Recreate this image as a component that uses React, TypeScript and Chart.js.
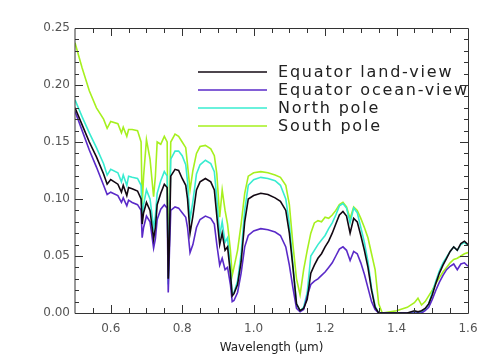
import React, { useEffect, useRef } from "react";
import { Chart, registerables } from "chart.js";

Chart.register(...registerables);

const wavelengths = [
  0.50, 0.52, 0.54, 0.56, 0.58, 0.59, 0.60, 0.62, 0.63, 0.635,
  0.645, 0.65, 0.66, 0.675, 0.685, 0.688, 0.692, 0.70, 0.71, 0.72,
  0.725, 0.73, 0.74, 0.75, 0.758, 0.761, 0.764, 0.768, 0.78, 0.79,
  0.80, 0.81, 0.815, 0.822, 0.83, 0.84, 0.85, 0.865, 0.88, 0.89,
  0.897, 0.905, 0.912, 0.92, 0.927, 0.935, 0.94, 0.945, 0.955, 0.965,
  0.975, 0.985, 1.00, 1.02, 1.04, 1.06, 1.075, 1.09, 1.10, 1.11,
  1.12, 1.13, 1.14, 1.15, 1.16, 1.17, 1.18, 1.19, 1.20, 1.21,
  1.22, 1.23, 1.24, 1.25, 1.26, 1.27, 1.28, 1.29, 1.30, 1.31,
  1.32, 1.33, 1.34, 1.35, 1.36, 1.40, 1.43, 1.45, 1.46, 1.47,
  1.48, 1.49, 1.50, 1.51, 1.52, 1.53, 1.54, 1.55, 1.56, 1.57,
  1.58, 1.59, 1.60,
];

const equatorLand = [
  0.180, 0.165, 0.150, 0.137, 0.122, 0.113, 0.117, 0.113, 0.106, 0.112,
  0.103, 0.110, 0.109, 0.107, 0.100, 0.078, 0.088, 0.097, 0.090, 0.065,
  0.075, 0.095, 0.105, 0.113, 0.110, 0.030, 0.060, 0.120, 0.126, 0.125,
  0.118, 0.112, 0.100, 0.070, 0.085, 0.108, 0.115, 0.118, 0.115, 0.108,
  0.085, 0.060, 0.070, 0.055, 0.058, 0.035, 0.015, 0.017, 0.025, 0.045,
  0.080, 0.100, 0.103, 0.105, 0.104, 0.101, 0.098, 0.090, 0.070, 0.040,
  0.008, 0.002, 0.004, 0.012, 0.035, 0.042, 0.048, 0.052, 0.058, 0.063,
  0.070, 0.078, 0.086, 0.089, 0.085, 0.070, 0.083, 0.080, 0.068, 0.055,
  0.040, 0.020, 0.005, 0.000, 0.000, 0.000, 0.000, 0.002, 0.001, 0.002,
  0.004, 0.008, 0.016, 0.026, 0.035, 0.042, 0.048, 0.054, 0.058, 0.055,
  0.061, 0.063, 0.060,
];

const equatorOcean = [
  0.177, 0.160, 0.143, 0.128, 0.112, 0.104, 0.106, 0.103, 0.097, 0.101,
  0.094, 0.099, 0.097, 0.095, 0.090, 0.066, 0.075, 0.085, 0.080, 0.057,
  0.065, 0.082, 0.091, 0.095, 0.092, 0.018, 0.050, 0.090, 0.093, 0.092,
  0.088, 0.084, 0.075, 0.053, 0.060, 0.075, 0.082, 0.085, 0.083, 0.078,
  0.060, 0.042, 0.048, 0.038, 0.040, 0.025, 0.010, 0.011, 0.018, 0.035,
  0.058, 0.068, 0.072, 0.074, 0.073, 0.071, 0.068, 0.058, 0.042, 0.022,
  0.004, 0.001, 0.003, 0.015, 0.025, 0.028, 0.030, 0.033, 0.036, 0.040,
  0.044, 0.050, 0.056, 0.058, 0.055, 0.046, 0.054, 0.052, 0.044, 0.034,
  0.022, 0.010, 0.003, 0.000, 0.000, 0.000, 0.000, 0.000, 0.000, 0.000,
  0.002, 0.005, 0.012, 0.020, 0.027, 0.033, 0.038, 0.041, 0.043, 0.038,
  0.043, 0.044, 0.041,
];

const northPole = [
  0.187, 0.172, 0.158, 0.145, 0.131, 0.121, 0.126, 0.123, 0.115, 0.121,
  0.112, 0.120, 0.119, 0.118, 0.112, 0.085, 0.095, 0.108, 0.100, 0.075,
  0.085, 0.105, 0.116, 0.124, 0.120, 0.025, 0.065, 0.135, 0.142, 0.142,
  0.138, 0.130, 0.115, 0.082, 0.098, 0.122, 0.130, 0.134, 0.131, 0.124,
  0.100, 0.068, 0.080, 0.062, 0.066, 0.038, 0.016, 0.018, 0.028, 0.052,
  0.090, 0.112, 0.117, 0.119, 0.118, 0.116, 0.112, 0.100, 0.078, 0.042,
  0.008, 0.002, 0.005, 0.018, 0.050, 0.055, 0.060, 0.064, 0.068, 0.074,
  0.079, 0.086, 0.094, 0.096, 0.092, 0.079, 0.092, 0.088, 0.075, 0.062,
  0.045, 0.022, 0.006, 0.000, 0.000, 0.000, 0.000, 0.001, 0.000, 0.001,
  0.003, 0.008, 0.018, 0.028, 0.037, 0.044, 0.049, 0.054, 0.058, 0.055,
  0.060, 0.062, 0.059,
];

const southPole = [
  0.237, 0.215, 0.195, 0.180, 0.170, 0.162, 0.168, 0.166, 0.158, 0.163,
  0.155, 0.161, 0.161, 0.160, 0.150, 0.095, 0.120, 0.152, 0.135, 0.102,
  0.120, 0.150, 0.148, 0.155, 0.150, 0.030, 0.080, 0.150, 0.157, 0.155,
  0.150, 0.145, 0.130, 0.108, 0.125, 0.140, 0.146, 0.147, 0.144, 0.138,
  0.122, 0.084, 0.108, 0.090, 0.078, 0.055, 0.033, 0.040, 0.055, 0.078,
  0.105, 0.120, 0.123, 0.124, 0.123, 0.121, 0.119, 0.112, 0.095, 0.060,
  0.030, 0.016, 0.038, 0.055, 0.070, 0.079, 0.081, 0.080, 0.084, 0.083,
  0.086, 0.090, 0.095, 0.097, 0.093, 0.083, 0.093, 0.090, 0.083, 0.075,
  0.066, 0.052, 0.038, 0.008, 0.000, 0.002, 0.005, 0.009, 0.013, 0.007,
  0.010, 0.015, 0.020, 0.026, 0.031, 0.036, 0.040, 0.044, 0.047, 0.048,
  0.050, 0.052, 0.053,
];

const seriesNames = ["Equator land-view", "Equator ocean-view", "North pole", "South pole"];
const seriesColors = ["#120812", "#5a2ac8", "#38ecd0", "#a6f01e"];
const seriesValues = [equatorLand, equatorOcean, northPole, southPole];

const xTickValues = [0.6, 0.8, 1.0, 1.2, 1.4, 1.6];
const xMinorTicks = [0.55, 0.6, 0.65, 0.7, 0.75, 0.8, 0.85, 0.9, 0.95, 1.0, 1.05, 1.1, 1.15, 1.2, 1.25, 1.3, 1.35, 1.4, 1.45, 1.5, 1.55];
const yTickValues = [0, 0.05, 0.1, 0.15, 0.2, 0.25];
const yMinorTicks = [0.01, 0.02, 0.03, 0.04, 0.06, 0.07, 0.08, 0.09, 0.11, 0.12, 0.13, 0.14, 0.16, 0.17, 0.18, 0.19, 0.21, 0.22, 0.23, 0.24];
const xTitle = "Wavelength (\u03bcm)";

const framePlugin = {
  id: "frame",
  afterDraw(chart: any) {
    const ctx = chart.ctx;
    const { left, right, top, bottom } = chart.chartArea;
    const xs = chart.scales.x;
    const ys = chart.scales.y;
    ctx.save();
    ctx.strokeStyle = "#333";
    ctx.lineWidth = 1;
    ctx.beginPath();
    ctx.moveTo(left, top + 0.5);
    ctx.lineTo(right + 0.5, top + 0.5);
    ctx.lineTo(right + 0.5, bottom + 0.5);
    ctx.lineTo(left, bottom + 0.5);
    ctx.closePath();
    ctx.stroke();
    ctx.beginPath();
    const xTick = (v: number, len: number) => {
      const px = Math.round(xs.getPixelForValue(v)) + 0.5;
      ctx.moveTo(px, bottom);
      ctx.lineTo(px, bottom - len);
      ctx.moveTo(px, top);
      ctx.lineTo(px, top + len);
    };
    const yTick = (v: number, len: number) => {
      const py = Math.round(ys.getPixelForValue(v)) + 0.5;
      ctx.moveTo(left, py);
      ctx.lineTo(left + len, py);
      ctx.moveTo(right, py);
      ctx.lineTo(right - len, py);
    };
    xMinorTicks.forEach((v) => xTick(v, xTickValues.includes(v) ? 8 : 5));
    yMinorTicks.forEach((v) => yTick(v, 4));
    yTickValues.forEach((v) => yTick(v, 8));
    ctx.stroke();

    ctx.fillStyle = "#222";
    ctx.font = "12px 'DejaVu Sans'";
    ctx.textAlign = "center";
    ctx.textBaseline = "middle";
    ctx.fillText(xTitle, (left + right) / 2, 348);

    // legend
    ctx.font = "16px 'DejaVu Sans'";
    (ctx as any).letterSpacing = "1.8px";
    ctx.textAlign = "left";
    const rows = [72, 90, 108, 126];
    seriesNames.forEach((name, i) => {
      ctx.strokeStyle = seriesColors[i];
      ctx.lineWidth = 1.5;
      ctx.beginPath();
      ctx.moveTo(198, rows[i]);
      ctx.lineTo(267, rows[i]);
      ctx.stroke();
      ctx.fillStyle = "#222";
      ctx.fillText(name, 278, rows[i] + 1);
    });
    ctx.restore();
  },
};

export default function App() {
  const ref = useRef<HTMLCanvasElement>(null);
  useEffect(() => {
    if (!ref.current) return;
    const chart = new Chart(ref.current, {
      type: "line",
      data: {
        datasets: seriesValues.map((vals, i) => ({
          label: seriesNames[i],
          data: wavelengths.map((w, k) => ({ x: w, y: vals[k] })),
          borderColor: seriesColors[i],
          borderWidth: 1.6,
          pointRadius: 0,
          tension: 0,
          fill: false,
        })),
      },
      options: {
        responsive: false,
        animation: false,
        devicePixelRatio: 1,
        layout: { padding: { left: 0, right: 23, top: 28, bottom: 0 } },
        plugins: { legend: { display: false }, tooltip: { enabled: false } },
        scales: {
          x: {
            type: "linear",
            min: 0.5,
            max: 1.6,
            grid: { display: false, drawTicks: false },
            border: { display: false },
            afterBuildTicks: (s: any) => {
              s.ticks = xTickValues.map((v) => ({ value: v }));
            },
            afterFit: (s: any) => {
              s.height = 49;
            },
            ticks: {
              padding: 9,
              maxRotation: 0,
              autoSkip: false,
              color: "#555",
              font: { family: "'DejaVu Sans'", size: 12 },
              callback: (v: any) => Number(v).toFixed(1),
            },
          },
          y: {
            type: "linear",
            min: 0,
            max: 0.25,
            grid: { display: false, drawTicks: false },
            border: { display: false },
            afterBuildTicks: (s: any) => {
              s.ticks = yTickValues.map((v) => ({ value: v }));
            },
            afterFit: (s: any) => {
              s.width = 75;
            },
            ticks: {
              padding: 5,
              autoSkip: false,
              color: "#555",
              font: { family: "'DejaVu Sans'", size: 12 },
              callback: (v: any) => Number(v).toFixed(2),
            },
          },
        },
      },
      plugins: [framePlugin],
    });
    return () => chart.destroy();
  }, []);
  return (
    <div style={{ position: "fixed", left: 0, top: 0, width: 491, height: 362, background: "#fff" }}>
      <canvas ref={ref} width={491} height={362} style={{ display: "block" }} />
    </div>
  );
}
